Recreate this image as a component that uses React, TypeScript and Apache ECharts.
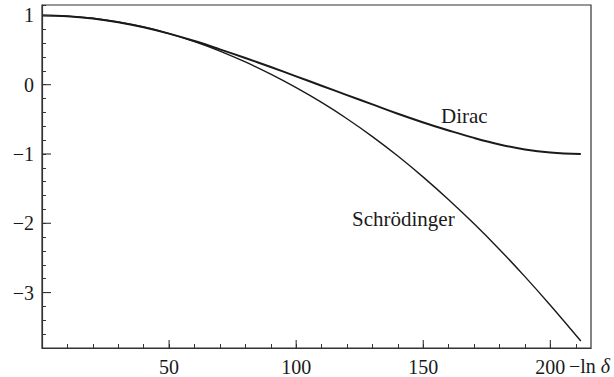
import React, { useEffect, useRef } from "react";
import * as echarts from "echarts";

const xValues = [0, 10, 20, 30, 40, 50, 60, 70, 80, 90, 100, 110, 120, 130, 140, 150, 160, 170, 180, 190, 200, 212];
const diracValues = [1.0, 0.989, 0.956, 0.902, 0.828, 0.737, 0.63, 0.51, 0.385, 0.255, 0.12, -0.015, -0.15, -0.285, -0.42, -0.545, -0.66, -0.768, -0.862, -0.934, -0.978, -1.0];
const schrodingerValues = [1.0, 0.99, 0.958, 0.905, 0.832, 0.738, 0.622, 0.485, 0.328, 0.152, -0.043, -0.256, -0.491, -0.749, -1.03, -1.334, -1.66, -2.008, -2.378, -2.77, -3.183, -3.7];
const xMajorTicks = [50, 100, 150, 200];
const yMajorTicks = [-3, -2, -1, 0, 1];
const X_MIN = 0;
const X_MAX = 216;
const Y_MIN = -3.8;
const Y_MAX = 1.15;

const FONT = "'Liberation Serif', 'Times New Roman', serif";
const INK = "#1a1a1a";
const FRAME = "#333";

function fmtY(v: number): string {
  const r = Math.round(v);
  if (Math.abs(v - r) > 1e-6) return "";
  if (r < 0) return "\u2212" + Math.abs(r);
  return String(r);
}

function fmtX(v: number): string {
  const r = Math.round(v);
  if (Math.abs(v - r) > 1e-6) return "";
  if (r > 0 && r % 50 === 0 && r <= 200) return String(r);
  return "";
}

export default function App() {
  const ref = useRef<HTMLDivElement>(null);
  useEffect(() => {
    if (!ref.current) return;
    const chart = echarts.init(ref.current, undefined, { renderer: "svg" });
    const tickData = [
      ...xMajorTicks.map((v) => [v, Y_MIN, 0]),
      ...yMajorTicks.map((v) => [X_MIN, v, 1]),
    ];
    chart.setOption({
      animation: false,
      backgroundColor: "#fff",
      grid: {
        left: 42,
        right: 23,
        top: 5,
        bottom: 28,
        show: true,
        borderColor: FRAME,
        borderWidth: 1.2,
        backgroundColor: "transparent",
      },
      xAxis: {
        type: "value",
        min: X_MIN,
        max: X_MAX,
        interval: 10,
        axisLine: { show: true, onZero: false, lineStyle: { color: FRAME, width: 1.2 } },
        axisTick: { show: true, inside: true, length: 4, lineStyle: { color: FRAME, width: 1 } },
        axisLabel: {
          formatter: fmtX,
          margin: 9,
          fontSize: 20,
          fontFamily: FONT,
          color: INK,
          showMinLabel: false,
          showMaxLabel: false,
        },
        splitLine: { show: false },
      },
      yAxis: {
        type: "value",
        min: Y_MIN,
        max: Y_MAX,
        interval: 0.2,
        axisLine: { show: true, onZero: false, lineStyle: { color: FRAME, width: 1.2 } },
        axisTick: { show: true, inside: true, length: 4, lineStyle: { color: FRAME, width: 1 } },
        axisLabel: {
          formatter: fmtY,
          margin: 8,
          fontSize: 20,
          fontFamily: FONT,
          color: INK,
        },
        splitLine: { show: false },
      },
      series: [
        {
          name: "Dirac",
          type: "line",
          data: xValues.map((x, i) => [x, diracValues[i]]),
          showSymbol: false,
          smooth: 0.4,
          lineStyle: { color: INK, width: 2 },
          z: 3,
        },
        {
          name: "Schrödinger",
          type: "line",
          data: xValues.map((x, i) => [x, schrodingerValues[i]]),
          showSymbol: false,
          smooth: 0.4,
          lineStyle: { color: INK, width: 1.4 },
          z: 3,
        },
        {
          name: "majorTicks",
          type: "custom",
          silent: true,
          clip: false,
          encode: { x: 0, y: 1 },
          data: tickData,
          z: 4,
          renderItem: (params: any, api: any) => {
            const p = api.coord([api.value(0), api.value(1)]);
            const isX = api.value(2) === 0;
            return {
              type: "line",
              shape: isX
                ? { x1: p[0], y1: p[1], x2: p[0], y2: p[1] - 8 }
                : { x1: p[0], y1: p[1], x2: p[0] + 9, y2: p[1] },
              style: { stroke: FRAME, lineWidth: 1.1 },
            };
          },
        },
      ],
      graphic: [
        {
          type: "text",
          x: 441,
          y: 116,
          style: {
            text: "Dirac",
            font: `21px ${FONT}`,
            fill: INK,
            verticalAlign: "middle",
            align: "left",
          },
        },
        {
          type: "text",
          x: 352,
          y: 219,
          style: {
            text: "Schrödinger",
            font: `21px ${FONT}`,
            fill: INK,
            verticalAlign: "middle",
            align: "left",
          },
        },
        {
          type: "text",
          x: 569,
          y: 366,
          style: {
            text: "{n|\u2212ln }{g|\u03b4}",
            verticalAlign: "middle",
            align: "left",
            rich: {
              n: { fontSize: 20, fontFamily: FONT, fill: INK },
              g: { fontSize: 20, fontFamily: FONT, fontStyle: "italic", fill: INK },
            },
          },
        },
      ],
    });
    return () => chart.dispose();
  }, []);
  return (
    <div
      ref={ref}
      style={{ width: 614, height: 377, position: "absolute", left: 0, top: 0 }}
    />
  );
}
